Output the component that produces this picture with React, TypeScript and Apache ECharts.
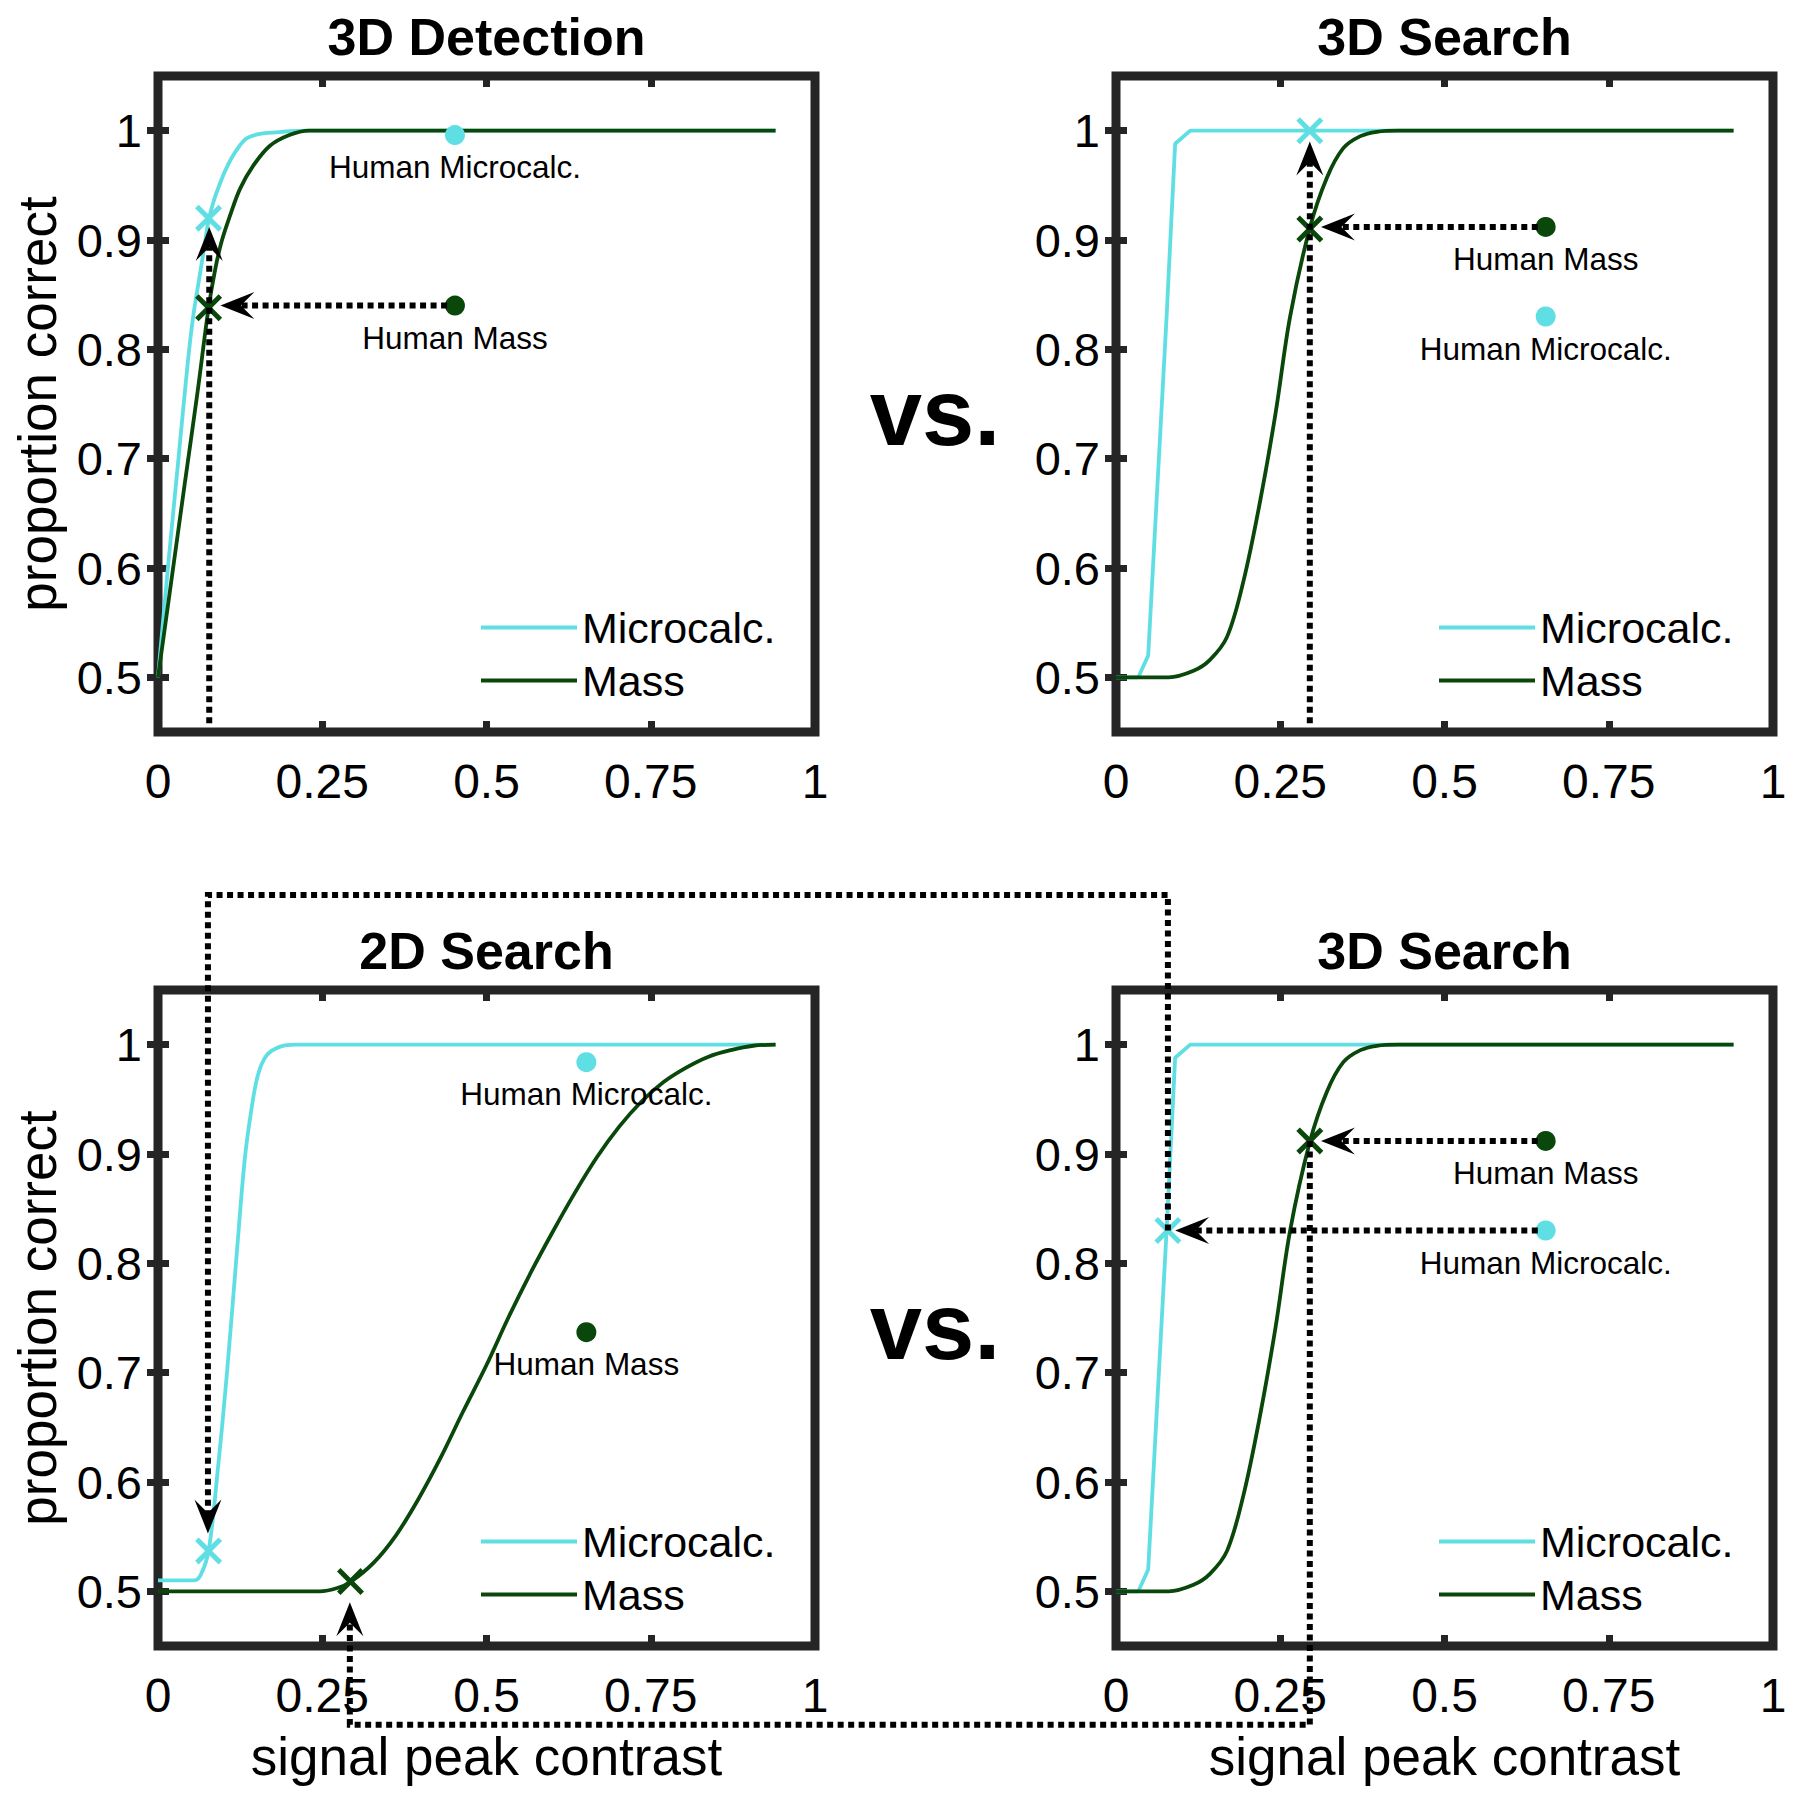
import React, { useEffect, useRef } from 'react';
import * as echarts from 'echarts';

const FONT = '"Liberation Sans", Arial, Helvetica, sans-serif';
const CYAN = '#5fdfe3';
const GREEN = '#0a470a';
const FRAME = '#252525';

const panelTitles = ['3D Detection', '3D Search', '2D Search', '3D Search'];
const xTickValues = [0, 0.25, 0.5, 0.75, 1];
const yTickValues = [0.5, 0.6, 0.7, 0.8, 0.9, 1];
const legendNames = ['Microcalc.', 'Mass'];
const yAxisTitle = 'proportion correct';
const xAxisTitle = 'signal peak contrast';
const vsText = 'vs.';

// 3D Detection curves
const det3dMicroX = [0, 0.016, 0.031, 0.046, 0.054, 0.062, 0.069, 0.077, 0.085, 0.092, 0.102, 0.112, 0.124, 0.135, 0.155, 0.19, 0.23, 0.3, 0.94];
const det3dMicroY = [0.5, 0.606, 0.699, 0.792, 0.832, 0.862, 0.888, 0.918, 0.936, 0.948, 0.963, 0.975, 0.986, 0.993, 0.997, 0.999, 1, 1, 1];
const det3dMassX = [0, 0.02, 0.04, 0.06, 0.077, 0.087, 0.097, 0.11, 0.125, 0.145, 0.17, 0.2, 0.23, 0.3, 0.94];
const det3dMassY = [0.5, 0.587, 0.674, 0.76, 0.838, 0.873, 0.899, 0.923, 0.947, 0.968, 0.986, 0.996, 1, 1, 1];

// 3D Search curves
const search3dMicroX = [0, 0.034, 0.049, 0.077, 0.09, 0.113, 0.94];
const search3dMicroY = [0.5, 0.5, 0.52, 0.83, 0.988, 1, 1];
const search3dMassX = [0, 0.08, 0.118, 0.143, 0.169, 0.194, 0.219, 0.243, 0.265, 0.295, 0.321, 0.346, 0.372, 0.397, 0.43, 0.94];
const search3dMassY = [0.5, 0.5, 0.506, 0.516, 0.537, 0.588, 0.66, 0.742, 0.83, 0.911, 0.957, 0.984, 0.995, 0.999, 1, 1];

// 2D Search curves
const search2dMicroX = [0, 0.055, 0.065, 0.077, 0.09, 0.105, 0.12, 0.132, 0.142, 0.152, 0.165, 0.185, 0.21, 0.94];
const search2dMicroY = [0.51, 0.51, 0.515, 0.537, 0.605, 0.7, 0.81, 0.895, 0.94, 0.972, 0.99, 0.998, 1, 1];
const search2dMassX = [0, 0.246, 0.273, 0.294, 0.328, 0.362, 0.396, 0.43, 0.464, 0.5, 0.533, 0.566, 0.6, 0.634, 0.668, 0.702, 0.736, 0.77, 0.804, 0.838, 0.872, 0.906, 0.94];
const search2dMassY = [0.5, 0.5, 0.503, 0.509, 0.526, 0.551, 0.584, 0.622, 0.664, 0.707, 0.75, 0.79, 0.828, 0.864, 0.897, 0.925, 0.948, 0.966, 0.979, 0.989, 0.995, 0.999, 1];

// markers per panel [TL, TR, BL, BR]
const modelMicro = [[0.077, 0.92], [0.295, 1.0], [0.077, 0.537], [0.079, 0.83]];
const modelMass = [[0.077, 0.838], [0.295, 0.91], [0.293, 0.509], [0.295, 0.912]];
const humanMicro = [[0.452, 0.996], [0.654, 0.83], [0.652, 0.984], [0.654, 0.83]];
const humanMass = [[0.452, 0.84], [0.654, 0.912], [0.652, 0.737], [0.654, 0.912]];

// dotted arrows: points [panel, x, y]; last point = arrow tip
const arrowPaths = [
  [[0, 0.44, 0.84], [0, 0.095, 0.84]],
  [[0, 0.078, 0.458], [0, 0.078, 0.912]],
  [[1, 0.642, 0.912], [1, 0.312, 0.912]],
  [[1, 0.295, 0.458], [1, 0.295, 0.99]],
  [[3, 0.642, 0.912], [3, 0.312, 0.912]],
  [[3, 0.642, 0.83], [3, 0.09, 0.83]],
  [[3, 0.079, 0.83], [3, 0.079, 1.137], [2, 0.076, 1.137], [2, 0.076, 0.553]],
  [[3, 0.295, 0.912], [3, 0.295, 0.378], [2, 0.292, 0.378], [2, 0.292, 0.49]],
];

const pairs = (xs: number[], ys: number[]) => xs.map((x, i) => [x, ys[i]]);
const panelCurves = [
  [pairs(det3dMicroX, det3dMicroY), pairs(det3dMassX, det3dMassY)],
  [pairs(search3dMicroX, search3dMicroY), pairs(search3dMassX, search3dMassY)],
  [pairs(search2dMicroX, search2dMicroY), pairs(search2dMassX, search2dMassY)],
  [pairs(search3dMicroX, search3dMicroY), pairs(search3dMassX, search3dMassY)],
];
const microSmooth = [0.35, 0, 0.35, 0];

const gridLefts = [158, 1116, 158, 1116];
const gridTops = [76, 76, 990, 990];
const GW = 657;
const GH = 656;
const XPATH = 'path://M0,13L13,0L50,37L87,0L100,13L63,50L100,87L87,100L50,63L13,100L0,87L37,50Z';

function buildOption() {
  const grid: any[] = [];
  const xAxis: any[] = [];
  const yAxis: any[] = [];
  const series: any[] = [];
  const legend: any[] = [];
  const tick = { show: true, inside: true, length: 11, lineStyle: { width: 7, color: FRAME } };
  for (let p = 0; p < 4; p++) {
    grid.push({
      left: gridLefts[p], top: gridTops[p], width: GW, height: GH,
      show: true, borderWidth: 9, borderColor: FRAME, backgroundColor: 'transparent',
      containLabel: false, outerBoundsMode: 'none',
    });
    const bottomRow = p >= 2;
    const leftCol = p % 2 === 0;
    xAxis.push({
      gridIndex: p, type: 'value', min: 0, max: 1, interval: 0.25, position: 'bottom',
      axisLine: { show: false }, axisTick: tick, splitLine: { show: false },
      axisLabel: { show: true, fontSize: 48, color: '#000', margin: 25, fontFamily: FONT },
      name: bottomRow ? xAxisTitle : '', nameLocation: 'middle', nameGap: 84,
      nameTextStyle: { fontSize: 53, color: '#000', fontFamily: FONT },
    });
    xAxis.push({
      gridIndex: p, type: 'value', min: 0, max: 1, interval: 0.25, position: 'top',
      axisLine: { show: false }, axisTick: tick, splitLine: { show: false }, axisLabel: { show: false },
    });
    yAxis.push({
      gridIndex: p, type: 'value', min: 0.45, max: 1.05, position: 'left',
      axisLine: { show: false },
      axisTick: { ...tick, customValues: yTickValues },
      splitLine: { show: false },
      axisLabel: {
        show: true, customValues: yTickValues, fontSize: 47, color: '#000', margin: 16, fontFamily: FONT,
        formatter: (v: number) => (Math.abs(v - 1) < 1e-9 ? '1' : v.toFixed(1)),
      },
      name: leftCol ? yAxisTitle : '', nameLocation: 'middle', nameRotate: 90, nameGap: 94,
      nameTextStyle: { fontSize: 53, color: '#000', fontFamily: FONT },
    });
    yAxis.push({
      gridIndex: p, type: 'value', min: 0.45, max: 1.05, position: 'right',
      axisLine: { show: false },
      axisTick: { ...tick, customValues: yTickValues },
      splitLine: { show: false }, axisLabel: { show: false },
    });
    const [micro, mass] = panelCurves[p];
    const ax = { xAxisIndex: 2 * p, yAxisIndex: 2 * p };
    series.push({
      type: 'line', name: legendNames[0], ...ax, data: micro, symbol: 'none', showSymbol: false,
      smooth: microSmooth[p],
      lineStyle: { color: CYAN, width: 3.8 }, itemStyle: { color: CYAN }, silent: true, z: 3,
    });
    series.push({
      type: 'line', name: legendNames[1], ...ax, data: mass, symbol: 'none', showSymbol: false,
      smooth: 0.35,
      lineStyle: { color: GREEN, width: 3.8 }, itemStyle: { color: GREEN }, silent: true, z: 3,
    });
    series.push({
      type: 'scatter', name: 'Model Microcalc.', ...ax, data: [modelMicro[p]], symbol: XPATH, symbolSize: 27,
      itemStyle: { color: CYAN, opacity: 1 }, silent: true, z: 6,
    });
    series.push({
      type: 'scatter', name: 'Model Mass', ...ax, data: [modelMass[p]], symbol: XPATH, symbolSize: 27,
      itemStyle: { color: GREEN, opacity: 1 }, silent: true, z: 6,
    });
    series.push({
      type: 'scatter', name: 'Human Microcalc.', ...ax, data: [humanMicro[p]], symbol: 'circle', symbolSize: 20,
      itemStyle: { color: CYAN, opacity: 1 }, silent: true, z: 6,
      label: { show: true, position: 'bottom', distance: 6, formatter: 'Human Microcalc.', fontSize: 31.5, color: '#000', fontFamily: FONT },
    });
    series.push({
      type: 'scatter', name: 'Human Mass', ...ax, data: [humanMass[p]], symbol: 'circle', symbolSize: 20,
      itemStyle: { color: GREEN, opacity: 1 }, silent: true, z: 6,
      label: { show: true, position: 'bottom', distance: 6, formatter: 'Human Mass', fontSize: 31.5, color: '#000', fontFamily: FONT },
    });
    legend.push({
      data: legendNames.map((n) => ({ name: n, icon: 'rect' })),
      orient: 'vertical', left: gridLefts[p] + 323, top: gridTops[p] + 530,
      padding: 0, itemWidth: 96, itemHeight: 3.8, itemGap: 10, selectedMode: false,
      textStyle: { fontSize: 43, lineHeight: 42, color: '#000', fontFamily: FONT },
    });
  }
  return {
    animation: false,
    backgroundColor: '#fff',
    textStyle: { fontFamily: FONT },
    grid, xAxis, yAxis, series, legend,
  };
}

export default function App() {
  const ref = useRef<HTMLDivElement>(null);
  useEffect(() => {
    document.body.style.margin = '0';
    const chart = echarts.init(ref.current as HTMLDivElement, null, { renderer: 'svg' });
    chart.setOption(buildOption() as any);
    const elements: any[] = [];
    for (let p = 0; p < 4; p++) {
      elements.push({
        type: 'text', x: gridLefts[p] + GW / 2, y: gridTops[p] - 39, silent: true,
        style: { text: panelTitles[p], fontSize: 52, fontWeight: 'bold', fontFamily: FONT, fill: '#000', align: 'center', verticalAlign: 'middle' },
      });
    }
    [0, 2].forEach((p) => {
      elements.push({
        type: 'text', x: 935, y: gridTops[p] + 336, silent: true,
        style: { text: vsText, fontSize: 94, fontWeight: 'bold', fontFamily: FONT, fill: '#000', align: 'center', verticalAlign: 'middle' },
      });
    });
    const L = 34;
    const W = 27;
    arrowPaths.forEach((path) => {
      const pts = path.map(([p, x, y]) => chart.convertToPixel({ xAxisIndex: 2 * p, yAxisIndex: 2 * p } as any, [x, y]) as number[]);
      const tip = pts[pts.length - 1];
      const prev = pts[pts.length - 2];
      const dx = tip[0] - prev[0];
      const dy = tip[1] - prev[1];
      const len = Math.hypot(dx, dy) || 1;
      const ux = dx / len;
      const uy = dy / len;
      const nx = -uy;
      const ny = ux;
      const notch = [tip[0] - 0.6 * L * ux, tip[1] - 0.6 * L * uy];
      const linePts = [...pts.slice(0, -1), notch];
      elements.push({
        type: 'polyline', silent: true, z: 20,
        shape: { points: linePts },
        style: { stroke: '#000', lineWidth: 6, lineDash: [6, 4.5], fill: null, lineCap: 'butt' },
      });
      elements.push({
        type: 'polygon', silent: true, z: 21,
        shape: {
          points: [
            tip,
            [tip[0] - L * ux + (W / 2) * nx, tip[1] - L * uy + (W / 2) * ny],
            notch,
            [tip[0] - L * ux - (W / 2) * nx, tip[1] - L * uy - (W / 2) * ny],
          ],
        },
        style: { fill: '#000', stroke: null },
      });
    });
    chart.setOption({ graphic: { elements } } as any);
    return () => chart.dispose();
  }, []);
  return <div ref={ref} style={{ width: 1795, height: 1800 }} />;
}
